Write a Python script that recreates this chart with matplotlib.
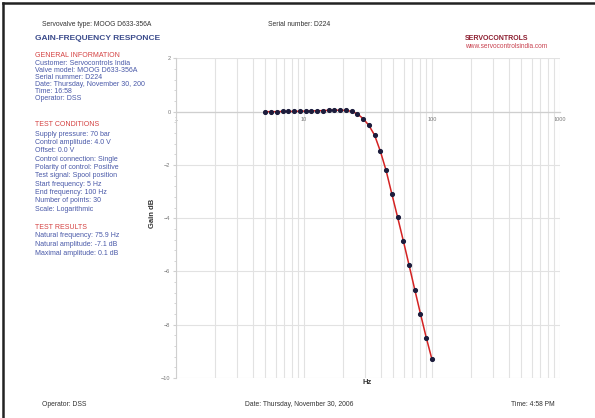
import matplotlib
matplotlib.use("Agg")
import matplotlib.pyplot as plt
from matplotlib.ticker import FixedLocator, NullFormatter, MultipleLocator
from matplotlib.lines import Line2D

plt.rcParams['font.family'] = ['Liberation Sans', 'DejaVu Sans']

# ---- data ----
freq_hz = [5.00, 5.54, 6.15, 6.82, 7.56, 8.38, 9.29, 10.30, 11.42, 12.67,
           14.04, 15.57, 17.27, 19.14, 21.23, 23.54, 26.10, 28.94, 32.08, 35.58,
           39.45, 43.74, 48.50, 53.78, 59.63, 66.11, 73.31, 81.28, 90.12, 99.93]
gain_db = [0.00, 0.00, 0.00, 0.01, 0.01, 0.01, 0.02, 0.02, 0.03, 0.03,
           0.04, 0.05, 0.06, 0.05, 0.05, 0.01, -0.08, -0.26, -0.51, -0.88,
           -1.48, -2.20, -3.08, -3.95, -4.84, -5.75, -6.68, -7.59, -8.48, -9.30]
x_ticks = [1, 10, 100, 1000]
x_tick_labels = ["1", "10", "100", "1000"]
y_ticks = [2, 0, -2, -4, -6, -8, -10]

general_info = ["Customer: Servocontrols India", "Valve model: MOOG D633-356A",
                "Serial nummer: D224", "Date: Thursday, November 30, 200",
                "Time: 16:58", "Operator: DSS"]
test_conditions = ["Supply pressure: 70 bar", "Control amplitude: 4.0 V",
                   "Offset: 0.0 V", "Control connection: Single",
                   "Polarity of control: Positive", "Test signal: Spool position",
                   "Start frequency: 5 Hz", "End frequency: 100 Hz",
                   "Number of points: 30", "Scale: Logarithmic"]
test_results = ["Natural frequency: 75.9 Hz", "Natural amplitude: -7.1 dB",
                "Maximal amplitude: 0.1 dB"]

W, H = 595, 418
fig = plt.figure(figsize=(W / 100, H / 100), dpi=100)
fig.patch.set_facecolor("white")

def fx(px):
    return px / W

def fy(py):
    return 1 - py / H

# dark frame on the top and left edges of the page
fig.add_artist(Line2D([fx(2.5), fx(595)], [fy(3), fy(3)], transform=fig.transFigure,
                      color="#222222", linewidth=1.8))
fig.add_artist(Line2D([fx(2.5), fx(2.5)], [fy(3), fy(418)], transform=fig.transFigure,
                      color="#222222", linewidth=1.8))

ax = fig.add_axes([fx(176), fy(378), fx(560) - fx(176), fy(58.4) - fy(378)])
ax.set_xscale("log")
ax.set_xlim(1, 1000)
ax.set_ylim(-10, 2)

grid_c = "#e2e2e2"
ax.xaxis.set_major_locator(FixedLocator(x_ticks))
ax.set_xticklabels(x_tick_labels)
ax.xaxis.set_minor_locator(FixedLocator([m * d for d in (1, 10, 100) for m in range(2, 10)]))
ax.xaxis.set_minor_formatter(NullFormatter())
ax.grid(True, which="both", axis="x", color=grid_c, linewidth=0.8)
ax.yaxis.set_major_locator(FixedLocator(y_ticks))
ax.yaxis.set_minor_locator(MultipleLocator(0.4))
ax.grid(True, which="major", axis="y", color=grid_c, linewidth=0.8)
ax.set_axisbelow(True)

for s in ("top", "right"):
    ax.spines[s].set_visible(False)
ax.spines["left"].set_color("#cfcfcf")
ax.spines["left"].set_linewidth(0.8)
ax.spines["bottom"].set_position(("data", 0))
ax.spines["bottom"].set_color("#cfcfcf")
ax.spines["bottom"].set_linewidth(0.9)

ax.tick_params(axis="x", which="both", length=0, labelsize=4, labelcolor="#777777", pad=4)
ax.tick_params(axis="y", which="major", length=2, color="#cfcfcf", labelsize=4, labelcolor="#777777", pad=2)
ax.tick_params(axis="y", which="minor", length=1.5, color="#cfcfcf")

ax.plot(freq_hz, gain_db, color="#d42222", linewidth=1.1, zorder=3)
ax.plot(freq_hz, gain_db, linestyle="none", marker="o", markersize=2.7,
        markerfacecolor="#1c1c3c", markeredgecolor="#1c1c3c", zorder=4)

fig.text(fx(153), fy(213), "Gain dB", rotation=90, fontsize=5.5, fontweight="bold",
         color="#333333", ha="center", va="center")
fig.text(fx(367), fy(383), "Hz", fontsize=5.5, fontweight="bold",
         color="#333333", ha="center", va="center")

# header texts
tc = "#333333"
fig.text(fx(42), fy(24), "Servovalve type: MOOG D633-356A", fontsize=4.9, color=tc, va="center")
fig.text(fx(268), fy(24), "Serial number: D224", fontsize=4.9, color=tc, va="center")
fig.text(fx(35), fy(38), "GAIN-FREQUENCY RESPONCE", fontsize=6, fontweight="bold",
         color="#3c4c8c", va="center")
fig.text(fx(465), fy(38), "SERVOCONTROLS", fontsize=5, fontweight="bold",
         color="#8c1e30", va="center")
fig.text(fx(465), fy(47), "www.servocontrolsindia.com", fontsize=4.7,
         color="#c8404e", va="center")

red = "#d44040"
blue = "#4858a8"
fs = 5.0
fig.text(fx(35), fy(55.5), "GENERAL INFORMATION", fontsize=fs, color=red, va="center")
for i, t in enumerate(general_info):
    fig.text(fx(35), fy(63.3 + 7.1 * i), t, fontsize=fs, color=blue, va="center")

fig.text(fx(35), fy(125), "TEST CONDITIONS", fontsize=fs, color=red, va="center")
for i, t in enumerate(test_conditions):
    fig.text(fx(35), fy(134 + 8.37 * i), t, fontsize=fs, color=blue, va="center")

fig.text(fx(35), fy(228), "TEST RESULTS", fontsize=fs, color=red, va="center")
for i, t in enumerate(test_results):
    fig.text(fx(35), fy(236 + 8.6 * i), t, fontsize=fs, color=blue, va="center")

# footer
fig.text(fx(42), fy(405), "Operator: DSS", fontsize=4.9, color=tc, va="center")
fig.text(fx(299), fy(404.5), "Date: Thursday, November 30, 2006", fontsize=4.9, color=tc,
         va="center", ha="center")
fig.text(fx(555), fy(404.5), "Time: 4:58 PM", fontsize=4.9, color=tc, va="center", ha="right")

fig.savefig("out.png", dpi=100, facecolor="white")
